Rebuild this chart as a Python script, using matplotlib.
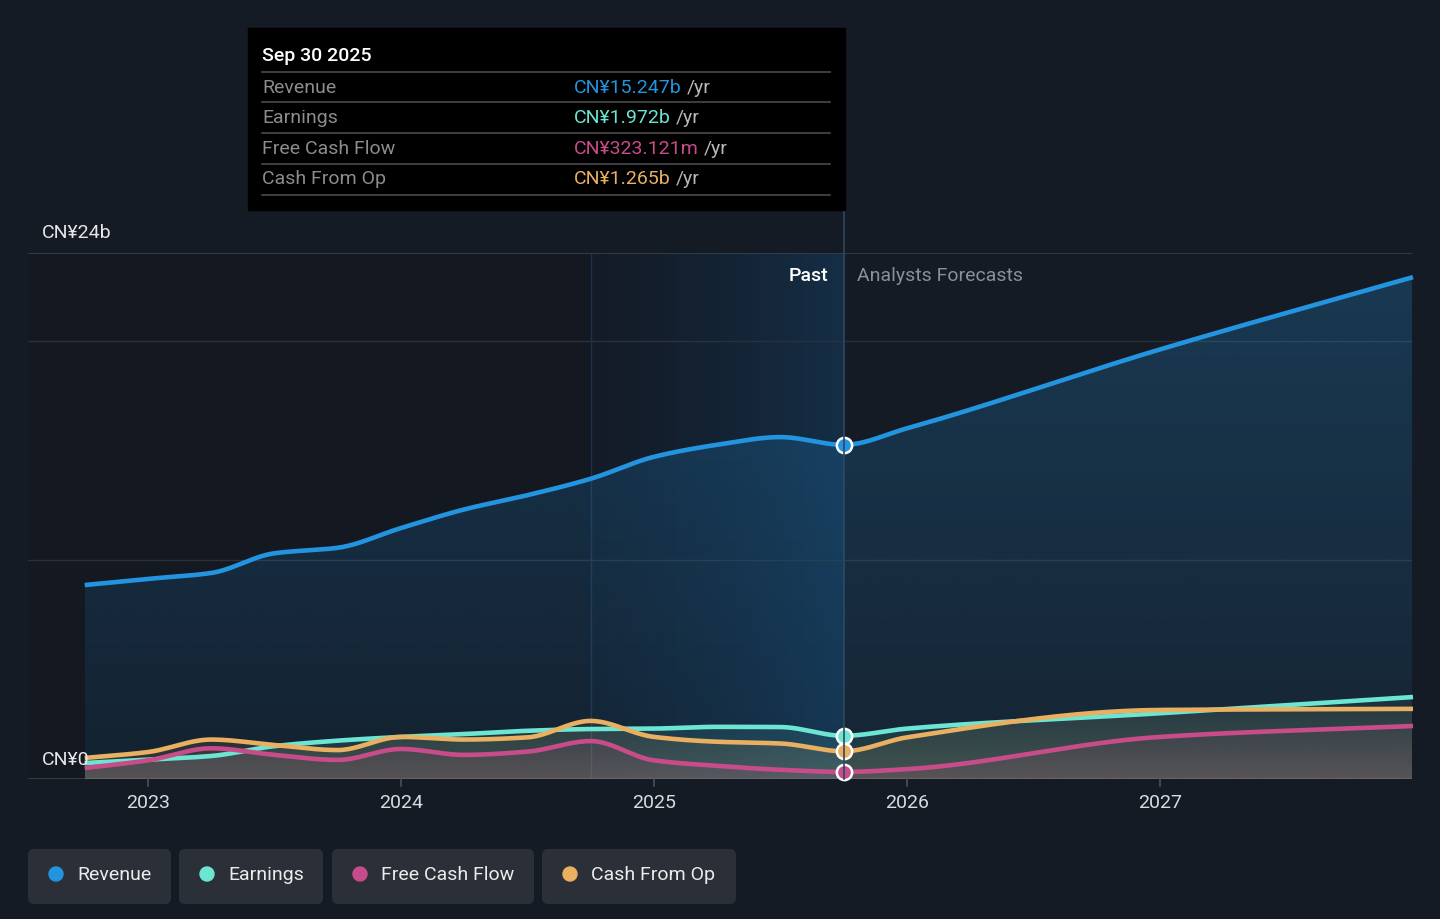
import numpy as np
import matplotlib
matplotlib.use("Agg")
import matplotlib.pyplot as plt
from matplotlib.patches import FancyBboxPatch, Rectangle, Circle
from matplotlib.colors import LinearSegmentedColormap, to_rgb

plt.rcParams['font.family'] = ['Roboto', 'DejaVu Sans']

# quarterly trailing twelve months values (CN¥ billions)
past_t = [2022.75, 2023.0, 2023.25, 2023.5, 2023.75, 2024.0, 2024.25,
          2024.5, 2024.75, 2025.0, 2025.25, 2025.5, 2025.75]
revenue_past = [8.85, 9.13, 9.4, 10.3, 10.55, 11.45, 12.3, 12.95, 13.7, 14.7, 15.25, 15.6, 15.247]
earnings_past = [0.73, 0.88, 1.05, 1.5, 1.75, 1.92, 2.05, 2.2, 2.28, 2.3, 2.38, 2.37, 1.972]
fcf_past = [0.5, 0.85, 1.4, 1.1, 0.87, 1.37, 1.1, 1.25, 1.73, 0.85, 0.6, 0.42, 0.323]
cfo_past = [0.96, 1.23, 1.8, 1.55, 1.32, 1.92, 1.8, 1.9, 2.65, 1.92, 1.7, 1.62, 1.265]

# analyst forecasts
fc_t = [2026.0, 2027.0, 2028.0]
revenue_fc = [16.0, 19.6, 22.9]
earnings_fc = [2.3, 3.0, 3.74]
fcf_fc = [0.45, 1.92, 2.42]
cfo_fc = [1.9, 3.15, 3.2]

years = [2023, 2024, 2025, 2026, 2027]
names = ["Revenue", "Earnings", "Free Cash Flow", "Cash From Op"]
colors = ["#2394df", "#6ce5d3", "#c94c8a", "#e8b060"]
tip_values = ["CN¥15.247b", "CN¥1.972b", "CN¥323.121m", "CN¥1.265b"]
now = 2025.75
band_start = 2024.75

BG = "#151b24"
XMIN, XMAX = 2022.526, 2027.996
FS = 14


def smooth(x, y, n=500):
    # monotone cubic (like d3 curveMonotoneX)
    x = np.asarray(x, float)
    y = np.asarray(y, float)
    h = np.diff(x)
    d = np.diff(y) / h
    m = np.zeros_like(y)
    for i in range(1, len(y) - 1):
        if d[i - 1] * d[i] > 0:
            w1 = 2 * h[i] + h[i - 1]
            w2 = h[i] + 2 * h[i - 1]
            m[i] = (w1 + w2) / (w1 / d[i - 1] + w2 / d[i])
    m[0] = d[0]
    m[-1] = d[-1]
    xs = np.linspace(x[0], x[-1], n)
    idx = np.clip(np.searchsorted(x, xs) - 1, 0, len(h) - 1)
    t = (xs - x[idx]) / h[idx]
    h00 = 2 * t**3 - 3 * t**2 + 1
    h10 = t**3 - 2 * t**2 + t
    h01 = -2 * t**3 + 3 * t**2
    h11 = t**3 - t**2
    ys = h00 * y[idx] + h10 * h[idx] * m[idx] + h01 * y[idx + 1] + h11 * h[idx] * m[idx + 1]
    return xs, ys


def gradient_fill(ax, xs, ys, color, a_top, a_bottom, z):
    poly = ax.fill_between(xs, 0, ys, color='none', lw=0)
    r, g, b = to_rgb(color)
    cmap = LinearSegmentedColormap.from_list("g", [(r, g, b, a_bottom), (r, g, b, a_top)])
    grad = np.linspace(0, 1, 256).reshape(-1, 1)
    im = ax.imshow(grad, extent=[xs[0], xs[-1], 0, ys.max()], origin='lower',
                   aspect='auto', cmap=cmap, zorder=z)
    im.set_clip_path(poly.get_paths()[0], transform=ax.transData)


fig = plt.figure(figsize=(14.4, 9.19), dpi=100, facecolor=BG)
W, H = 1440, 919
ax = fig.add_axes([28 / W, (H - 779) / H, (1412 - 28) / W, (779 - 253) / H])
ax.set_facecolor(BG)
for s in ax.spines.values():
    s.set_visible(False)
ax.set_xticks([])
ax.set_yticks([])

# past region slightly darker, highlight band before "now"
ax.axvspan(XMIN, now, color="black", alpha=0.08, lw=0, zorder=0.3)
grad = np.linspace(0, 1, 256).reshape(1, -1)
ax.imshow(grad, extent=[band_start, now, 0, 24], aspect='auto', cmap=LinearSegmentedColormap.from_list(
    "b", [(0.09, 0.2, 0.32, 0.12), (0.09, 0.27, 0.42, 0.5)]), zorder=0.5)
ax.axvline(band_start, color="#1f3247", lw=1, zorder=0.6)

# grid lines
for g in [10, 20]:
    ax.axhline(g, color="#2a313b", lw=1, zorder=0.7)
ax.axhline(24, color="#3a414b", lw=1.2, zorder=0.7)
ax.axhline(0, color="#3a414b", lw=1.2, zorder=0.7)

series = [
    (revenue_past, revenue_fc),
    (earnings_past, earnings_fc),
    (fcf_past, fcf_fc),
    (cfo_past, cfo_fc),
]
alphas = [(0.25, 0.08), (0.06, 0.16), (0.06, 0.16), (0.06, 0.16)]
for (p, f), c, (at, ab) in zip(series, colors, alphas):
    xs, ys = smooth(past_t + fc_t, p + f)
    gradient_fill(ax, xs, ys, c, at, ab, 1)

for (p, f), c in zip(series, colors):
    xs, ys = smooth(past_t + fc_t, p + f)
    ax.plot(xs, ys, color=c, lw=3.3, solid_capstyle='butt', zorder=3, clip_on=False)
    ax.plot([now], [p[-1]], 'o', ms=11, mfc=c, mec="white", mew=1.8, zorder=5, clip_on=False)

ax.set_xlim(XMIN, XMAX)
ax.set_ylim(0, 24)

# overlay in pixel coordinates for texts, tooltip, legend
ov = fig.add_axes([0, 0, 1, 1], facecolor='none')
ov.set_xlim(0, W)
ov.set_ylim(H, 0)
ov.axis('off')


def xpix(v):
    return 28 + (v - XMIN) / (XMAX - XMIN) * (1412 - 28)


ov.plot([xpix(now)] * 2, [210, 779], color="#2e4760", lw=1.2, zorder=2)

ov.text(42, 233, "CN¥24b", color="#e6e6e6", fontsize=FS, va='center', ha='left')
ov.text(42, 760, "CN¥0", color="#e6e6e6", fontsize=FS, va='center', ha='left')
for yr in years:
    xp = xpix(yr)
    ov.plot([xp, xp], [779, 786], color="#4a515b", lw=1.2)
    ov.text(xp, 803, str(yr), color="#d8dbe0", fontsize=FS, ha='center', va='center')

ov.text(828, 276, "Past", color="white", fontsize=FS, ha='right', va='center', fontweight='medium')
ov.text(857, 276, "Analysts Forecasts", color="#8a9099", fontsize=FS, ha='left', va='center')

# tooltip
ov.add_patch(Rectangle((248, 28), 597, 182, color="black", zorder=3))
ov.text(262, 56, "Sep 30 2025", color="white", fontsize=FS, va='center', zorder=4, fontweight='medium')
for ly in [72, 102, 133, 164, 195]:
    ov.plot([262, 830], [ly, ly], color="#4a4a4a", lw=1.2, zorder=4)
fig.canvas.draw()
renderer = fig.canvas.get_renderer()
for i, (nm, val, c) in enumerate(zip(names, tip_values, colors)):
    yy = [88, 118, 149, 179][i]
    ov.text(262, yy, nm, color="#8c8c8c", fontsize=FS, va='center', zorder=4)
    t = ov.text(574, yy, val, color=c, fontsize=FS, va='center', zorder=4)
    bb = t.get_window_extent(renderer=renderer)
    xe = ov.transData.inverted().transform((bb.x1, bb.y0))[0]
    ov.text(xe + 5, yy, "/yr", color="#b8b8b8", fontsize=FS, va='center', zorder=4)

# legend
boxes = [(28, 143), (179, 144), (332, 202), (542, 194)]
for (bx, bw), nm, c in zip(boxes, names, colors):
    ov.add_patch(FancyBboxPatch((bx, 849), bw, 55, boxstyle="round,pad=0,rounding_size=6",
                                fc="#2a2f38", ec="none", zorder=3))
    ov.add_patch(Circle((bx + 28, 874), 7, color=c, zorder=4))
    ov.text(bx + 49, 875, nm, color="#ececec", fontsize=FS, va='center', zorder=4)

fig.savefig("out.png", dpi=100, facecolor=BG)
